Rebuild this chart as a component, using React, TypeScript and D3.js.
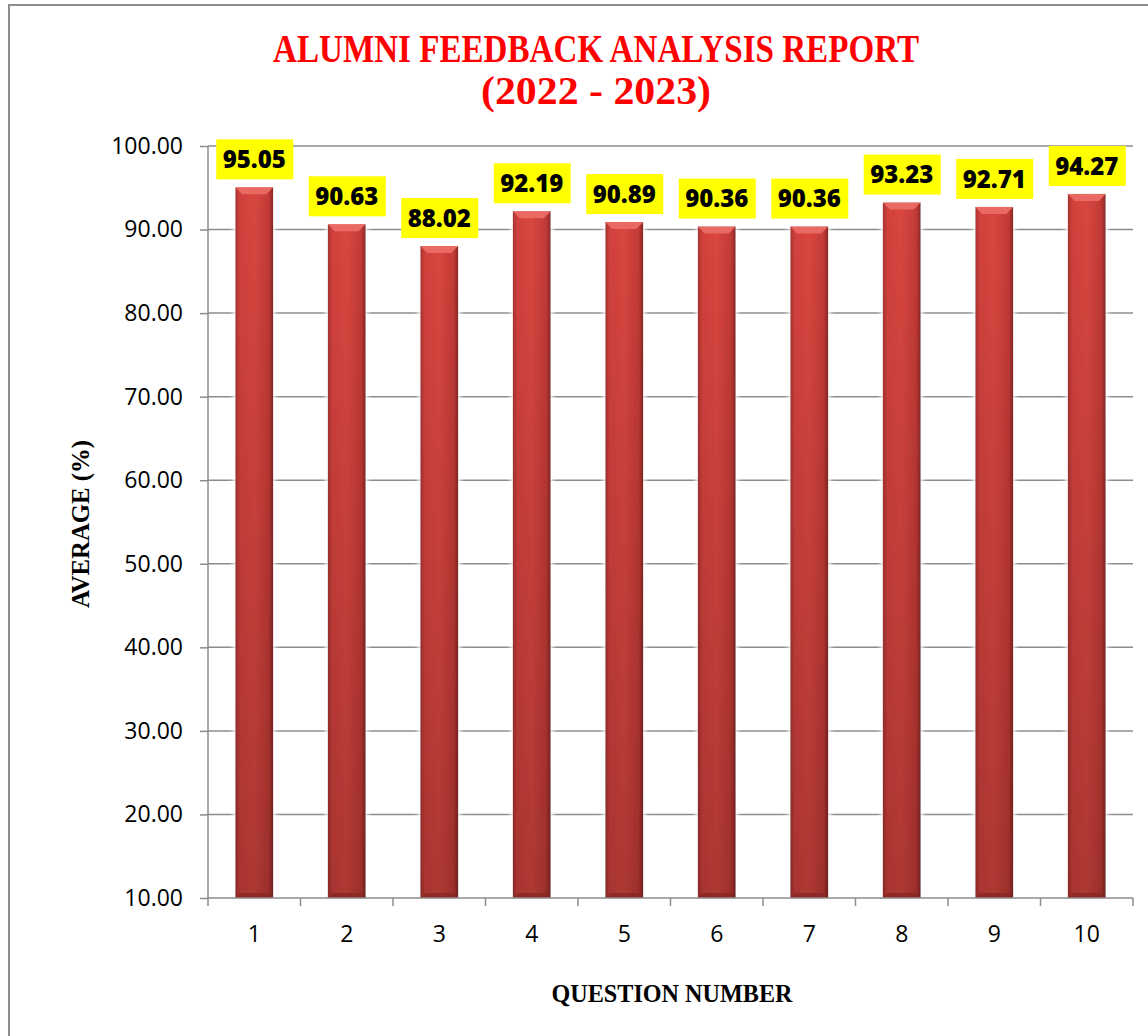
import { useEffect, useRef } from 'react';
import * as d3 from 'd3';

const questions = ['1', '2', '3', '4', '5', '6', '7', '8', '9', '10'];
const averages = [95.05, 90.63, 88.02, 92.19, 90.89, 90.36, 90.36, 93.23, 92.71, 94.27];
const yTicks = [10, 20, 30, 40, 50, 60, 70, 80, 90, 100];

const W = 1148;
const H = 1036;

export default function App() {
  const svgRef = useRef<SVGSVGElement>(null);

  useEffect(() => {
    document.body.style.margin = '0';
    const svg = d3.select(svgRef.current);
    svg.selectAll('*').remove();

    const m = { top: 146, right: 15, bottom: 138, left: 208 };
    const w = W - m.left - m.right;
    const h = H - m.top - m.bottom;

    const defs = svg.append('defs');
    const grad = defs.append('linearGradient').attr('id', 'barGrad').attr('x1', '0').attr('x2', '1').attr('y1', '0').attr('y2', '0');
    grad.append('stop').attr('offset', '0%').attr('stop-color', '#a8322f');
    grad.append('stop').attr('offset', '12%').attr('stop-color', '#d2413d');
    grad.append('stop').attr('offset', '50%').attr('stop-color', '#d9463f');
    grad.append('stop').attr('offset', '88%').attr('stop-color', '#c23a36');
    grad.append('stop').attr('offset', '100%').attr('stop-color', '#8a2724');
    const vgrad = defs.append('linearGradient').attr('id', 'barShade').attr('x1', '0').attr('x2', '0').attr('y1', '0').attr('y2', '1');
    vgrad.append('stop').attr('offset', '0%').attr('stop-color', '#000').attr('stop-opacity', 0);
    vgrad.append('stop').attr('offset', '100%').attr('stop-color', '#000').attr('stop-opacity', 0.2);
    const shadow = defs.append('filter').attr('id', 'glow').attr('x', '-40%').attr('y', '-5%').attr('width', '180%').attr('height', '110%');
    shadow.append('feGaussianBlur').attr('in', 'SourceAlpha').attr('stdDeviation', 3).attr('result', 'b');
    shadow.append('feFlood').attr('flood-color', '#ffffff');
    shadow.append('feComposite').attr('in2', 'b').attr('operator', 'in');
    const mg = shadow.append('feMerge');
    mg.append('feMergeNode');
    mg.append('feMergeNode');
    mg.append('feMergeNode').attr('in', 'SourceGraphic');

    svg.append('rect').attr('width', W).attr('height', H).attr('fill', '#fff');
    // outer frame
    svg.append('rect').attr('x', 9).attr('y', 5).attr('width', W + 20).attr('height', H + 20)
      .attr('fill', 'none').attr('stroke', '#8c8c8c').attr('stroke-width', 2);

    // title
    const title = svg.append('g').attr('fill', '#ff0000').attr('font-family', '"Liberation Serif", serif')
      .attr('font-weight', 'bold').attr('text-anchor', 'middle');
    title.append('text').attr('x', 596).attr('y', 62).attr('font-size', 40)
      .attr('textLength', 646).attr('lengthAdjust', 'spacingAndGlyphs').text('ALUMNI FEEDBACK ANALYSIS REPORT');
    title.append('text').attr('x', 596).attr('y', 104).attr('font-size', 40)
      .attr('textLength', 230).attr('lengthAdjust', 'spacingAndGlyphs').text('(2022 - 2023)');

    const x = d3.scaleBand().domain(questions).range([0, w]).paddingInner(0.59).paddingOuter(0.295);
    const y = d3.scaleLinear().domain([10, 100]).range([h, 0]);

    const g = svg.append('g').attr('transform', `translate(${m.left},${m.top})`);

    // gridlines
    g.append('g').selectAll('line').data(yTicks.filter(t => t > 10)).enter().append('line')
      .attr('x1', 0).attr('x2', w).attr('y1', d => y(d)).attr('y2', d => y(d))
      .attr('stroke', '#8c8c8c').attr('stroke-width', 1.5);

    // bars
    const bars = g.append('g').selectAll('g').data(averages).enter().append('g')
      .attr('filter', 'url(#glow)');
    bars.append('rect')
      .attr('x', (_, i) => x(questions[i])!)
      .attr('y', d => y(d))
      .attr('width', x.bandwidth())
      .attr('height', d => h - y(d))
      .attr('fill', 'url(#barGrad)');
    bars.append('rect')
      .attr('x', (_, i) => x(questions[i])!)
      .attr('y', d => y(d))
      .attr('width', x.bandwidth())
      .attr('height', d => h - y(d))
      .attr('fill', 'url(#barShade)');
    // top bevel
    bars.append('path')
      .attr('d', (d, i) => {
        const x0 = x(questions[i])!;
        const bw = x.bandwidth();
        const t = y(d);
        return `M${x0},${t} L${x0 + bw},${t} L${x0 + bw - 7},${t + 7} L${x0 + 7},${t + 7} Z`;
      })
      .attr('fill', '#ea6a64');
    // bottom bevel
    bars.append('path')
      .attr('d', (_, i) => {
        const x0 = x(questions[i])!;
        const bw = x.bandwidth();
        return `M${x0},${h} L${x0 + bw},${h} L${x0 + bw - 5},${h - 5} L${x0 + 5},${h - 5} Z`;
      })
      .attr('fill', '#7e2422').attr('opacity', 0.6);

    // axes
    g.append('g')
      .call(d3.axisLeft(y).tickValues(yTicks).tickSize(8).tickPadding(17).tickFormat(d => (d as number).toFixed(2)))
      .call(a => a.select('.domain').attr('stroke', '#8c8c8c').attr('stroke-width', 1.5).attr('d', `M0,0V${h}`))
      .call(a => a.selectAll('.tick line').attr('stroke', '#8c8c8c').attr('stroke-width', 1.5))
      .call(a => a.selectAll('text').attr('fill', '#000').attr('font-size', 23).attr('font-family', '"Open Sans", sans-serif'));

    const xAxis = g.append('g').attr('transform', `translate(0,${h})`)
      .call(d3.axisBottom(x).tickSize(0).tickPadding(28))
      .call(a => a.select('.domain').attr('stroke', '#8c8c8c').attr('stroke-width', 1.5).attr('d', `M0,0H${w}`))
      .call(a => a.selectAll('text').attr('fill', '#000').attr('font-size', 23).attr('font-family', '"Open Sans", sans-serif'));
    const step = x.step();
    xAxis.append('g').selectAll('line').data(d3.range(questions.length + 1)).enter().append('line')
      .attr('x1', i => i * step).attr('x2', i => i * step).attr('y1', 0).attr('y2', 8)
      .attr('stroke', '#8c8c8c').attr('stroke-width', 1.5);

    // data labels
    const labels = g.append('g').selectAll('g').data(averages).enter().append('g')
      .attr('transform', (d, i) => `translate(${x(questions[i])! + x.bandwidth() / 2},${y(d) - 28})`);
    labels.append('rect').attr('x', -38).attr('y', -20).attr('width', 77).attr('height', 40).attr('fill', '#ffff00');
    labels.append('text').attr('text-anchor', 'middle').attr('dy', '0.36em')
      .attr('font-family', '"Open Sans", sans-serif').attr('font-weight', 800).attr('font-size', 24)
      .attr('fill', '#000').text(d => d.toFixed(2));

    // axis titles
    svg.append('text').attr('transform', `translate(89,524) rotate(-90)`).attr('text-anchor', 'middle')
      .attr('font-family', '"Liberation Serif", serif').attr('font-weight', 'bold').attr('font-size', 25)
      .attr('textLength', 168).attr('lengthAdjust', 'spacingAndGlyphs')
      .attr('fill', '#000').text('AVERAGE (%)');
    svg.append('text').attr('x', 672).attr('y', 1002).attr('text-anchor', 'middle')
      .attr('font-family', '"Liberation Serif", serif').attr('font-weight', 'bold').attr('font-size', 25)
      .attr('textLength', 241).attr('lengthAdjust', 'spacingAndGlyphs')
      .attr('fill', '#000').text('QUESTION NUMBER');
  }, []);

  return <svg ref={svgRef} width={W} height={H} style={{ display: 'block' }} />;
}
